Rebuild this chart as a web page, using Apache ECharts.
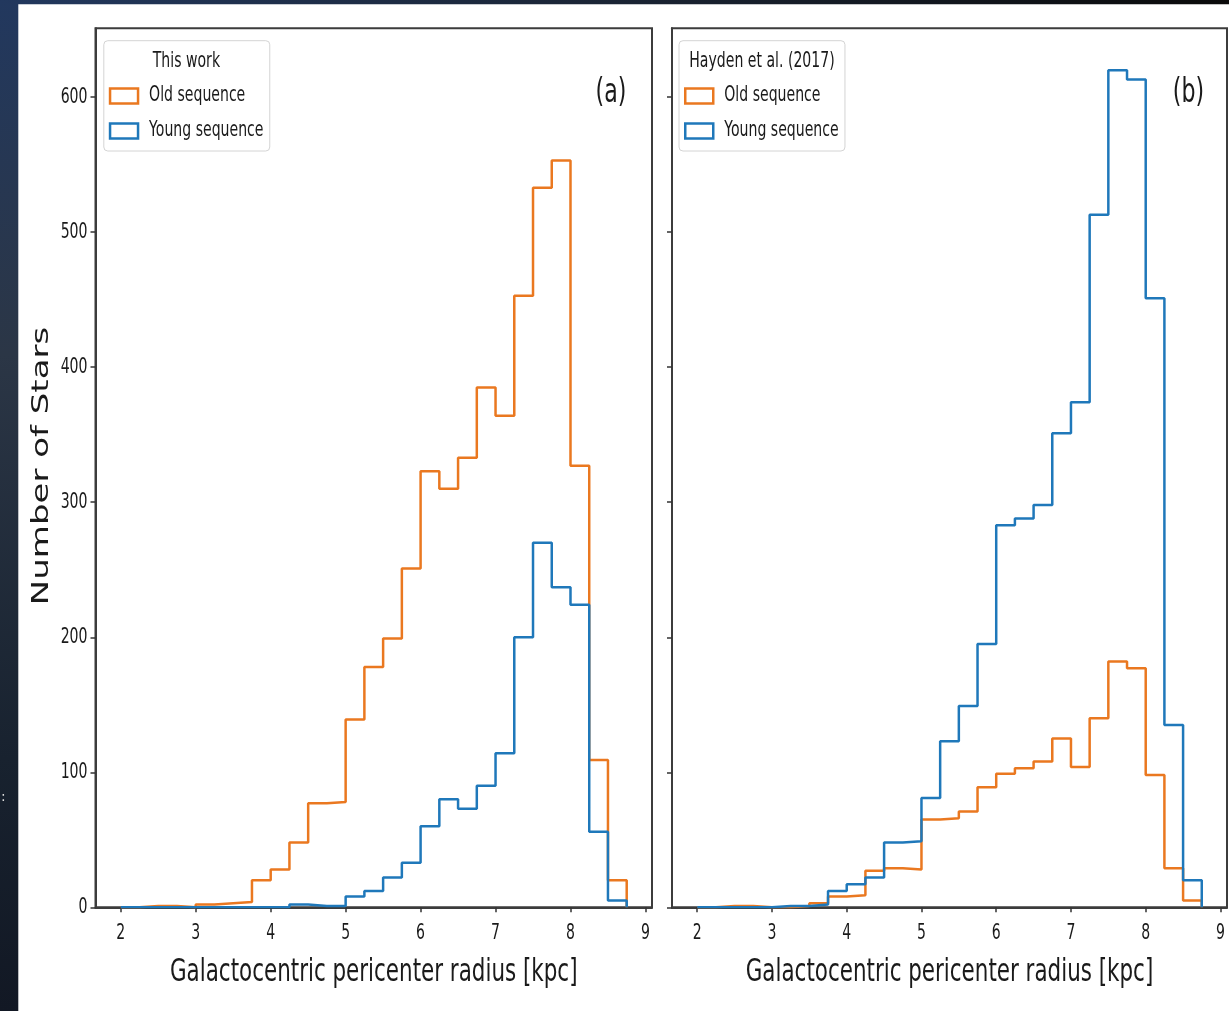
<!DOCTYPE html>
<html>
<head>
<meta charset="utf-8">
<script src="https://cdn.jsdelivr.net/npm/echarts@6/dist/echarts.min.js"></script>
<style>
html, body { margin: 0; padding: 0; background: #ffffff; }
#chart { width: 1229px; height: 1011px; }
</style>
</head>
<body>
<div id="chart"></div>
<script>
// ---------------- DATA ----------------
const binEdges = [2.0, 2.25, 2.5, 2.75, 3.0, 3.25, 3.5, 3.75, 4.0, 4.25, 4.5, 4.75, 5.0, 5.25,
                  5.5, 5.75, 6.0, 6.25, 6.5, 6.75, 7.0, 7.25, 7.5, 7.75, 8.0, 8.25, 8.5, 8.75];

// Panel (a): This work
const oldThisWork   = [0, 1, 1, 0, 2, 3, 4, 20, 28, 48, 77, 78, 139, 178, 199, 251, 323, 310, 333, 385, 364, 453, 533, 553, 327, 109, 20];
const youngThisWork = [0, 0, 0, 0, 0, 0, 0, 0, 0, 2, 1, 1, 8, 12, 22, 33, 60, 80, 73, 90, 114, 200, 270, 237, 224, 56, 5];

// Panel (b): Hayden et al. (2017)
const oldHayden   = [0, 1, 1, 0, 0, 1, 3, 8, 9, 27, 29, 28, 65, 66, 71, 89, 99, 103, 108, 125, 104, 140, 182, 177, 98, 29, 5];
const youngHayden = [0, 0, 0, 0, 1, 1, 2, 12, 17, 22, 48, 49, 81, 123, 149, 195, 283, 288, 298, 351, 374, 513, 620, 613, 451, 135, 20];

const xTicks = [2, 3, 4, 5, 6, 7, 8, 9];
const yTicks = [0, 100, 200, 300, 400, 500, 600];

const seriesNames = ['Old sequence', 'Young sequence'];
const panelTitles = ['This work', 'Hayden et al. (2017)'];
const panelLabels = ['(a)', '(b)'];
const xAxisTitle = 'Galactocentric pericenter radius [kpc]';
const yAxisTitle = 'Number of Stars';

// ---------------- STYLE ----------------
const ORANGE = '#ea7820';
const BLUE = '#1f78ba';
const DEJAVU = '"DejaVu Sans", sans-serif';
const SQUEEZE = 0.67;   // the reference figure is compressed horizontally
const TEXT = '#1a1a1a';

function stepData(counts) {
  const pts = [[binEdges[0], 0]];
  counts.forEach((c, i) => pts.push([binEdges[i], c]));
  pts.push([binEdges[binEdges.length - 1], counts[counts.length - 1]]);
  pts.push([binEdges[binEdges.length - 1], 0]);
  return pts;
}

const grids = [
  { left: 95.5, top: 28.3, width: 556.5, height: 879 },
  { left: 672, top: 28.3, width: 555, height: 879 }
];

function makeXAxis(i) {
  return {
    type: 'value', gridIndex: i, min: 1.6625, max: 9.0875,
    axisLine: { show: true, lineStyle: { color: '#3c3c3c', width: 2 } },
    splitLine: { show: false },
    axisTick: { show: true, length: 5, customValues: xTicks, lineStyle: { color: '#333', width: 1.5 } },
    axisLabel: { show: true, customValues: xTicks, margin: 16, fontFamily: DEJAVU, fontSize: 21, color: TEXT }
  };
}
function makeYAxis(i) {
  return {
    type: 'value', gridIndex: i, min: 0, max: 651,
    axisLine: { show: true, lineStyle: { color: '#3c3c3c', width: 2 } },
    splitLine: { show: false },
    axisTick: { show: true, length: 5, customValues: yTicks, lineStyle: { color: '#333', width: 1.5 } },
    axisLabel: { show: i === 0, customValues: yTicks, margin: 8, fontFamily: DEJAVU, fontSize: 21, color: TEXT }
  };
}
function makeLegend(left) {
  return {
    orient: 'vertical', left: left, top: 40.7,
    // negative right padding: the item texts are drawn compressed, so the box is trimmed to match
    padding: [44.8, -53, 9.5, 5],
    itemWidth: 28, itemHeight: 15, itemGap: 14,
    backgroundColor: '#ffffff', borderColor: '#d4d4d4', borderWidth: 1, borderRadius: 4,
    selectedMode: false,
    textStyle: { fontFamily: DEJAVU, fontSize: 21, color: TEXT, padding: [0, 0, 0, 9] },
    data: [
      { name: seriesNames[0], icon: 'rect', itemStyle: { color: '#ffffff', borderColor: ORANGE, borderWidth: 2.5 } },
      { name: seriesNames[1], icon: 'rect', itemStyle: { color: '#ffffff', borderColor: BLUE, borderWidth: 2.5 } }
    ]
  };
}
function makeSeries(name, counts, color, gi) {
  return {
    name: name, type: 'line', step: 'end', xAxisIndex: gi, yAxisIndex: gi,
    data: stepData(counts), showSymbol: false, symbol: 'none', silent: true,
    lineStyle: { color: color, width: 2.5 }, itemStyle: { color: color },
    animation: false
  };
}
function squeezedText(str, x, y, size) {
  return {
    type: 'text', x: x, y: y, scaleX: SQUEEZE, z: 20,
    style: { text: str, font: size + 'px ' + DEJAVU, fill: TEXT, align: 'center', verticalAlign: 'middle' }
  };
}

const chart = echarts.init(document.getElementById('chart'), null, { renderer: 'canvas' });
chart.setOption({
  backgroundColor: '#ffffff',
  animation: false,
  grid: grids.map(g => Object.assign({ show: true, borderColor: '#3c3c3c', borderWidth: 2, backgroundColor: 'transparent', outerBoundsMode: 'none' }, g)),
  xAxis: [makeXAxis(0), makeXAxis(1)],
  yAxis: [makeYAxis(0), makeYAxis(1)],
  legend: [makeLegend(103.8), makeLegend(679)],
  series: [
    makeSeries(seriesNames[0], oldThisWork, ORANGE, 0),
    makeSeries(seriesNames[1], youngThisWork, BLUE, 0),
    makeSeries(seriesNames[0], oldHayden, ORANGE, 1),
    makeSeries(seriesNames[1], youngHayden, BLUE, 1)
  ],
  graphic: [
    { type: 'rect', shape: { x: 0, y: 0, width: 18.3, height: 1011 }, z: 1,
      style: { fill: new echarts.graphic.LinearGradient(0, 0, 0, 1, [
        { offset: 0, color: '#22385e' }, { offset: 0.35, color: '#2b3646' },
        { offset: 0.75, color: '#18222f' }, { offset: 1, color: '#121824' }]) } },
    { type: 'rect', shape: { x: 0, y: 0, width: 1229, height: 4.3 }, z: 1,
      style: { fill: new echarts.graphic.LinearGradient(0, 0, 1, 0, [
        { offset: 0, color: '#22385e' }, { offset: 0.5, color: '#1a2434' }, { offset: 1, color: '#0a0a0a' }]) } },
    { type: 'text', x: 1, y: 797, z: 2, scaleX: 0.99, style: { text: ':', font: '14px ' + DEJAVU, fill: '#dddddd', align: 'left', verticalAlign: 'middle' } },
    squeezedText(panelTitles[0], 186.4, 62, 21),
    squeezedText(panelTitles[1], 762, 62, 21),
    squeezedText(panelLabels[0], 611, 93.5, 33),
    squeezedText(panelLabels[1], 1188.5, 93.5, 33),
    squeezedText(xAxisTitle, 373.75, 973, 32),
    squeezedText(xAxisTitle, 949.5, 973, 32),
    { type: 'text', x: 42, y: 466, rotation: Math.PI / 2, scaleY: SQUEEZE, z: 20,
      style: { text: yAxisTitle, font: '34px ' + DEJAVU, fill: TEXT, align: 'center', verticalAlign: 'middle' } }
  ]
});

// Compress the remaining (tick and legend) labels horizontally on screen, like the reference figure.
function squeezeLabels() {
  const zr = chart.getZr();
  function walk(el) {
    if (!el) return;
    if (el.type === 'text') {
      if (!el.__sq && el.scaleX === 1 && el.scaleY === 1) {
        const m = el.getComputedTransform ? el.getComputedTransform() : null;
        // local axis that maps to the screen horizontal
        let useY = false;
        if (m && Math.abs(m[0]) < 1e-6 && Math.abs(m[1]) > 1e-6) useY = true;
        el.originX = (el.style && el.style.x) || 0;
        el.originY = (el.style && el.style.y) || 0;
        if (useY) el.scaleY = SQUEEZE; else el.scaleX = SQUEEZE;
        el.__sq = true;
        el.markRedraw();
      }
      return;
    }
    if (el.childrenRef) (el.childrenRef() || []).forEach(walk);
    if (el.getTextContent) walk(el.getTextContent());
  }
  zr.storage.getRoots().forEach(walk);
  zr.refreshImmediately();
}
squeezeLabels();
chart.on('finished', squeezeLabels);
</script>
</body>
</html>
